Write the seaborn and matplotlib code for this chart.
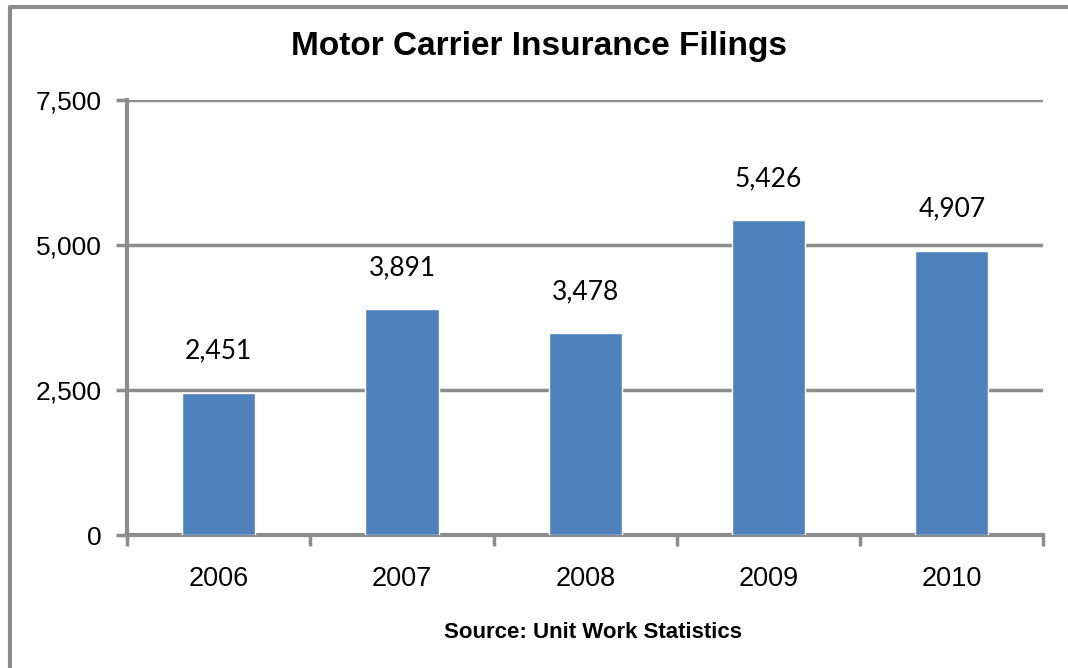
import pandas as pd
import matplotlib
matplotlib.use("Agg")
import matplotlib.pyplot as plt
import seaborn as sns
from matplotlib.lines import Line2D
from matplotlib.ticker import FuncFormatter, FixedLocator

# Chart data
years = ["2006", "2007", "2008", "2009", "2010"]
filings = [2451, 3891, 3478, 5426, 4907]
y_ticks = [0, 2500, 5000, 7500]

data = pd.DataFrame({"Year": years, "Filings": filings})

sns.set_style("white")
plt.rcParams["font.family"] = ["Liberation Sans", "DejaVu Sans"]
plt.rcParams["text.color"] = "black"
plt.rcParams["xtick.color"] = "black"
plt.rcParams["ytick.color"] = "black"
plt.rcParams["xtick.bottom"] = True
plt.rcParams["ytick.left"] = True

grey = "#8c8c8c"
fig = plt.figure(figsize=(10.68, 6.68), dpi=100)
ax = fig.add_axes([0.119, 0.199, 0.858, 0.651])

sns.barplot(data=data, x="Year", y="Filings", color="#4f81bd",
            width=0.40, saturation=1, ax=ax, zorder=3)

ax.set_ylim(0, 7500)
ax.set_xlim(-0.5, len(years) - 0.5)
ax.yaxis.set_major_locator(FixedLocator(y_ticks))
ax.yaxis.set_major_formatter(FuncFormatter(lambda v, p: f"{int(v):,}"))
ax.grid(axis="y", color=grey, linewidth=2.5, zorder=0)
ax.set_axisbelow(True)

# category boundary ticks on x axis
ax.set_xticks(range(len(years)))
ax.set_xticklabels(years, fontsize=19.5)
ax.set_xticks([i - 0.5 for i in range(len(years) + 1)], minor=True)
ax.tick_params(axis="x", which="major", length=0, pad=22, labelcolor="black")
ax.tick_params(axis="x", which="minor", length=8, width=2.5, color=grey,
               direction="out")
ax.tick_params(axis="y", length=8, width=2.5, color=grey, direction="out",
               labelsize=19, pad=10, labelcolor="black")

for side in ["top", "right"]:
    ax.spines[side].set_visible(False)
for side in ["left", "bottom"]:
    ax.spines[side].set_color(grey)
    ax.spines[side].set_linewidth(3)

ax.set_xlabel("")
ax.set_ylabel("")

for i, v in enumerate(filings):
    ax.annotate(f"{v:,}", (i, v), xytext=(0, 30), textcoords="offset points",
                ha="center", va="center", fontsize=19, family="Lato",
                color="black")

fig.text(0.505, 0.93, "Motor Carrier Insurance Filings", ha="center",
         va="center", fontsize=24, fontweight="bold", color="black")
fig.text(0.555, 0.053, "Source: Unit Work Statistics", ha="center",
         va="center", fontsize=16, fontweight="bold", color="black")

# figure border (top and left visible)
fig.add_artist(Line2D([0.009, 1.0], [0.990, 0.990], transform=fig.transFigure,
                      color=grey, linewidth=3))
fig.add_artist(Line2D([0.0094, 0.0094], [0.0, 0.990], transform=fig.transFigure,
                      color=grey, linewidth=3))

fig.savefig("out.png", dpi=100)
